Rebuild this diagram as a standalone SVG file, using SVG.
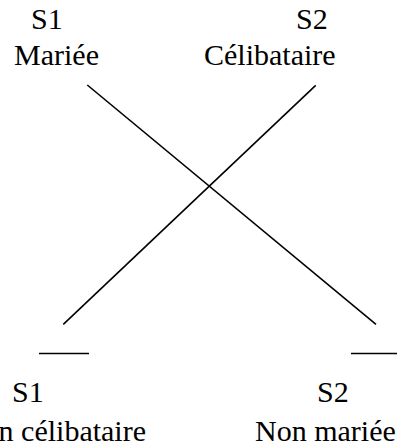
<svg xmlns="http://www.w3.org/2000/svg" width="397" height="446" viewBox="0 0 397 446">
<style>
text{font-family:'Liberation Serif','Times New Roman',Times,serif;font-size:30px;fill:#000}
line{stroke:#000;stroke-width:1.6;fill:none}
</style>
<rect width="397" height="446" fill="#fff"/>
<g id="node-s1-mariee"><text x="31" y="29">S1</text><text x="14" y="65">Mariée</text></g>
<g id="node-s2-celibataire"><text x="296" y="29">S2</text><text x="204" y="65">Célibataire</text></g>
<g id="node-s1-non-celibataire"><line x1="39" y1="353.5" x2="89" y2="353.5"/><text x="12" y="402">S1</text><text x="146" y="441" text-anchor="end">Non célibataire</text></g>
<g id="node-s2-non-mariee"><line x1="351" y1="353.5" x2="397" y2="353.5"/><text x="317" y="402">S2</text><text x="255" y="441">Non mariée</text></g>
<g id="connectors">
<line x1="87.3" y1="85" x2="376" y2="324.3"/>
<line x1="315.7" y1="85.3" x2="63.3" y2="324.3"/>
</g>
</svg>
